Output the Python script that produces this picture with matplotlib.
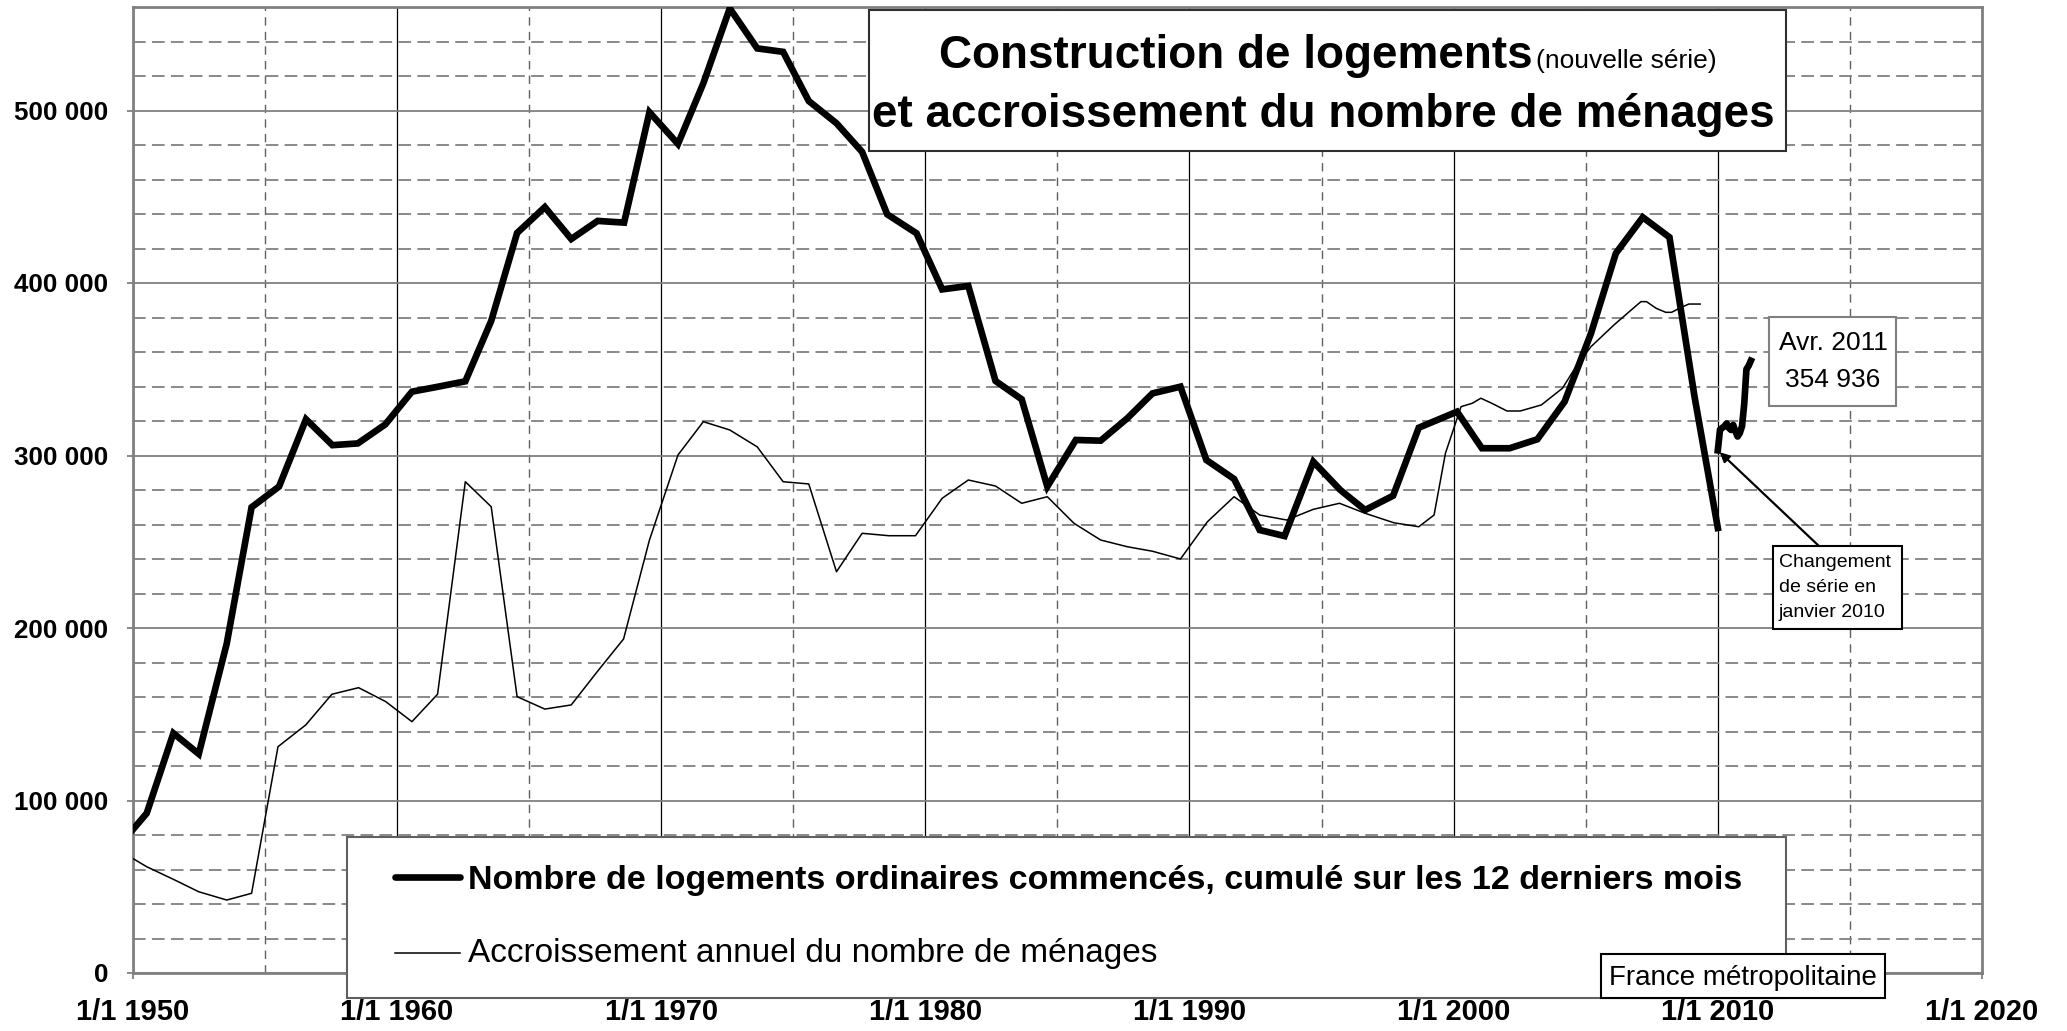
import matplotlib
matplotlib.use("Agg")
import matplotlib.pyplot as plt
from matplotlib.patches import Rectangle
from matplotlib.lines import Line2D
from matplotlib.ticker import MultipleLocator, FuncFormatter

plt.rcParams['font.family'] = ['Liberation Sans', 'DejaVu Sans']

# logements commencés (ancienne série), date décimale / valeur
starts_x = [1949.5, 1950.53, 1951.54, 1952.5, 1953.56, 1954.5, 1955.54, 1956.56, 1957.56, 1958.52,
            1959.56, 1960.57, 1961.6, 1962.59, 1963.57, 1964.55, 1965.6, 1966.6, 1967.6, 1968.6,
            1969.56, 1970.64, 1971.6, 1972.6, 1973.64, 1974.62, 1975.59, 1976.64, 1977.61, 1978.56,
            1979.67, 1980.64, 1981.63, 1982.66, 1983.65, 1984.62, 1985.7, 1986.64, 1987.65, 1988.6,
            1989.66, 1990.64, 1991.69, 1992.66, 1993.6, 1994.69, 1995.71, 1996.65, 1997.71, 1998.68,
            2000.13, 2001.07, 2002.12, 2003.17, 2004.2, 2005.2, 2006.14, 2007.16, 2008.17, 2009.12,
            2010.0]
starts_y = [74000, 92600, 139000, 127000, 191000, 270000, 282000, 321000, 306000, 307000,
            318000, 337000, 340000, 343000, 378000, 429000, 444000, 425500, 436000, 435000,
            499000, 480600, 515800, 559200, 536000, 534000, 505500, 492600, 476000, 439800,
            428800, 396300, 398300, 343200, 332600, 282000, 309000, 308600, 321600, 336000,
            339900, 297400, 286400, 256800, 253300, 296400, 280000, 268400, 276700, 316100,
            325400, 304200, 304200, 309400, 331200, 370800, 417200, 438100, 426500, 334000,
            258000]

# nouvelle série mensuelle, janvier 2010 - avril 2011
new_months = list(range(16))
new_y = [303000, 315000, 316000, 317000, 318600, 316000, 314800, 317700, 314000, 311000,
         313000, 317000, 330000, 350000, 352000, 354936]

# accroissement annuel du nombre de ménages
hh_x = [1949.5, 1950.53, 1951.54, 1952.5, 1953.56, 1954.5, 1955.5, 1956.55, 1957.54, 1958.55,
        1959.58, 1960.57, 1961.54, 1962.59, 1963.57, 1964.55, 1965.6, 1966.6, 1967.6, 1968.58,
        1969.56, 1970.64, 1971.6, 1972.6, 1973.64, 1974.62, 1975.59, 1976.64, 1977.61, 1978.62,
        1979.63, 1980.64, 1981.63, 1982.66, 1983.65, 1984.62, 1985.63, 1986.64, 1987.65, 1988.6,
        1989.66, 1990.68, 1991.69, 1992.66, 1993.68, 1994.69, 1995.68, 1996.65, 1997.74, 1998.68,
        1999.26, 1999.69, 2000.28, 2000.71, 2001.03, 2001.44, 2002.02, 2002.52, 2003.32, 2004.12,
        2004.63, 2005.2, 2006.07, 2006.65, 2007.09, 2007.3, 2007.67, 2008.03, 2008.25, 2008.54,
        2008.9, 2009.33]
hh_y = [71000, 61600, 54300, 47100, 42300, 46200, 131200, 143800, 161600, 165400,
        157300, 145700, 161600, 284800, 270300, 160200, 153000, 155400, 175000, 193600,
        251000, 300300, 319600, 314800, 305000, 284800, 283500, 232600, 254900, 253500,
        253500, 275200, 285800, 282300, 272300, 276100, 260700, 251000, 247100, 244500,
        240000, 261600, 276100, 265500, 262600, 268800, 272300, 266500, 261000, 258700,
        265500, 301300, 328300, 330300, 333200, 330300, 325800, 325800, 329300, 339000,
        351500, 363100, 375700, 383400, 389200, 389200, 385300, 383000, 383000, 385300,
        387800, 387800]

W, H = 2067, 1031


def fx(px):
    return px / W


def fy(py):
    return 1 - py / H


fig = plt.figure(figsize=(W / 100, H / 100), dpi=100)
ax = fig.add_axes([fx(132.7), fy(973), fx(1982) - fx(132.7), fy(7) - fy(973)])

new_x = [2010 + m / 12 for m in new_months]
ax.plot(hh_x, hh_y, color='black', lw=1.1, zorder=4)
ax.plot(starts_x, starts_y, color='black', lw=4.8, solid_joinstyle='miter', zorder=5)
ax.plot(new_x, new_y, color='black', lw=4.8, solid_joinstyle='round', zorder=5)

ax.set_xlim(1950, 2020)
ax.set_ylim(0, 560000)
ax.xaxis.set_major_locator(MultipleLocator(10))
ax.xaxis.set_minor_locator(MultipleLocator(5))
ax.yaxis.set_major_locator(MultipleLocator(100000))
ax.yaxis.set_minor_locator(MultipleLocator(20000))
ax.xaxis.set_major_formatter(FuncFormatter(lambda v, p: "1/1 %d" % round(v)))
ax.yaxis.set_major_formatter(FuncFormatter(lambda v, p: f"{int(v):,}".replace(",", " ")))

ax.set_axisbelow(True)
ax.grid(which='major', axis='y', color='#808080', lw=1.3, ls='-')
ax.grid(which='major', axis='x', color='black', lw=0.9, ls='-')
ax.grid(which='minor', axis='y', color='#808080', lw=1.3, ls=(0, (7, 3.5)))
ax.grid(which='minor', axis='x', color='#606060', lw=1.0, ls=(0, (6, 4.5)))

ax.tick_params(which='major', direction='out', length=4.5, width=1.3, color='#808080')
ax.tick_params(which='minor', length=0)
ax.tick_params(axis='y', pad=13, labelsize=18.7)
ax.tick_params(axis='x', pad=13.5, labelsize=21)
for lab in ax.get_xticklabels() + ax.get_yticklabels():
    lab.set_fontweight('bold')
for s in ax.spines.values():
    s.set_color('#808080')
    s.set_linewidth(2)


def box(x0, y0, x1, y1, ec, lw=1.5):
    fig.add_artist(Rectangle((fx(x0), fy(y1)), fx(x1) - fx(x0), fy(y0) - fy(y1),
                             transform=fig.transFigure, facecolor='white',
                             edgecolor=ec, lw=lw, zorder=2))


# titre
box(869, 10, 1786, 151, '#303030')
fig.text(fx(939), fy(68), "Construction de logements", fontsize=33, fontweight='bold',
         va='baseline', ha='left', zorder=3)
fig.text(fx(1536), fy(68), "(nouvelle série)", fontsize=19, va='baseline', ha='left', zorder=3)
fig.text(fx(1323), fy(127), "et accroissement du nombre de ménages", fontsize=33,
         fontweight='bold', va='baseline', ha='center', zorder=3)

# légende
box(347, 837, 1786, 998, '#606060')
fig.add_artist(Line2D([fx(395), fx(460)], [fy(877), fy(877)], transform=fig.transFigure,
                      color='black', lw=4.8, solid_capstyle='round', zorder=3))
fig.add_artist(Line2D([fx(395), fx(460)], [fy(953), fy(953)], transform=fig.transFigure,
                      color='black', lw=1.1, zorder=3))
fig.text(fx(468), fy(889), "Nombre de logements ordinaires commencés, cumulé sur les 12 derniers mois",
         fontsize=24.5, fontweight='bold', va='baseline', ha='left', zorder=3)
fig.text(fx(468), fy(962), "Accroissement annuel du nombre de ménages",
         fontsize=24, va='baseline', ha='left', zorder=3)

# France métropolitaine
box(1601, 954, 1885, 998, 'black')
fig.text(fx(1743), fy(985), "France métropolitaine", fontsize=20, va='baseline', ha='center', zorder=3)

# dernier point
box(1769, 317, 1896, 406, '#808080')
fig.text(fx(1833), fy(350), "Avr. 2011", fontsize=19, va='baseline', ha='center', zorder=3)
fig.text(fx(1833), fy(387), f"{new_y[-1]:,}".replace(",", " "), fontsize=19,
         va='baseline', ha='center', zorder=3)

# changement de série
box(1773, 546, 1902, 629, 'black')
for txt, b in [("Changement", 567), ("de série en", 592), ("janvier 2010", 617)]:
    fig.text(fx(1779), fy(b), txt, fontsize=14, va='baseline', ha='left', zorder=3)
ax.annotate("", xy=(new_x[0], new_y[0]), xycoords='data',
            xytext=(1818.6, H - 545.7), textcoords='figure pixels',
            arrowprops=dict(arrowstyle='-|>', color='black', lw=1.6, mutation_scale=14,
                            shrinkA=0, shrinkB=2), annotation_clip=False, zorder=6)

fig.savefig("out.png", dpi=100, facecolor='white')
